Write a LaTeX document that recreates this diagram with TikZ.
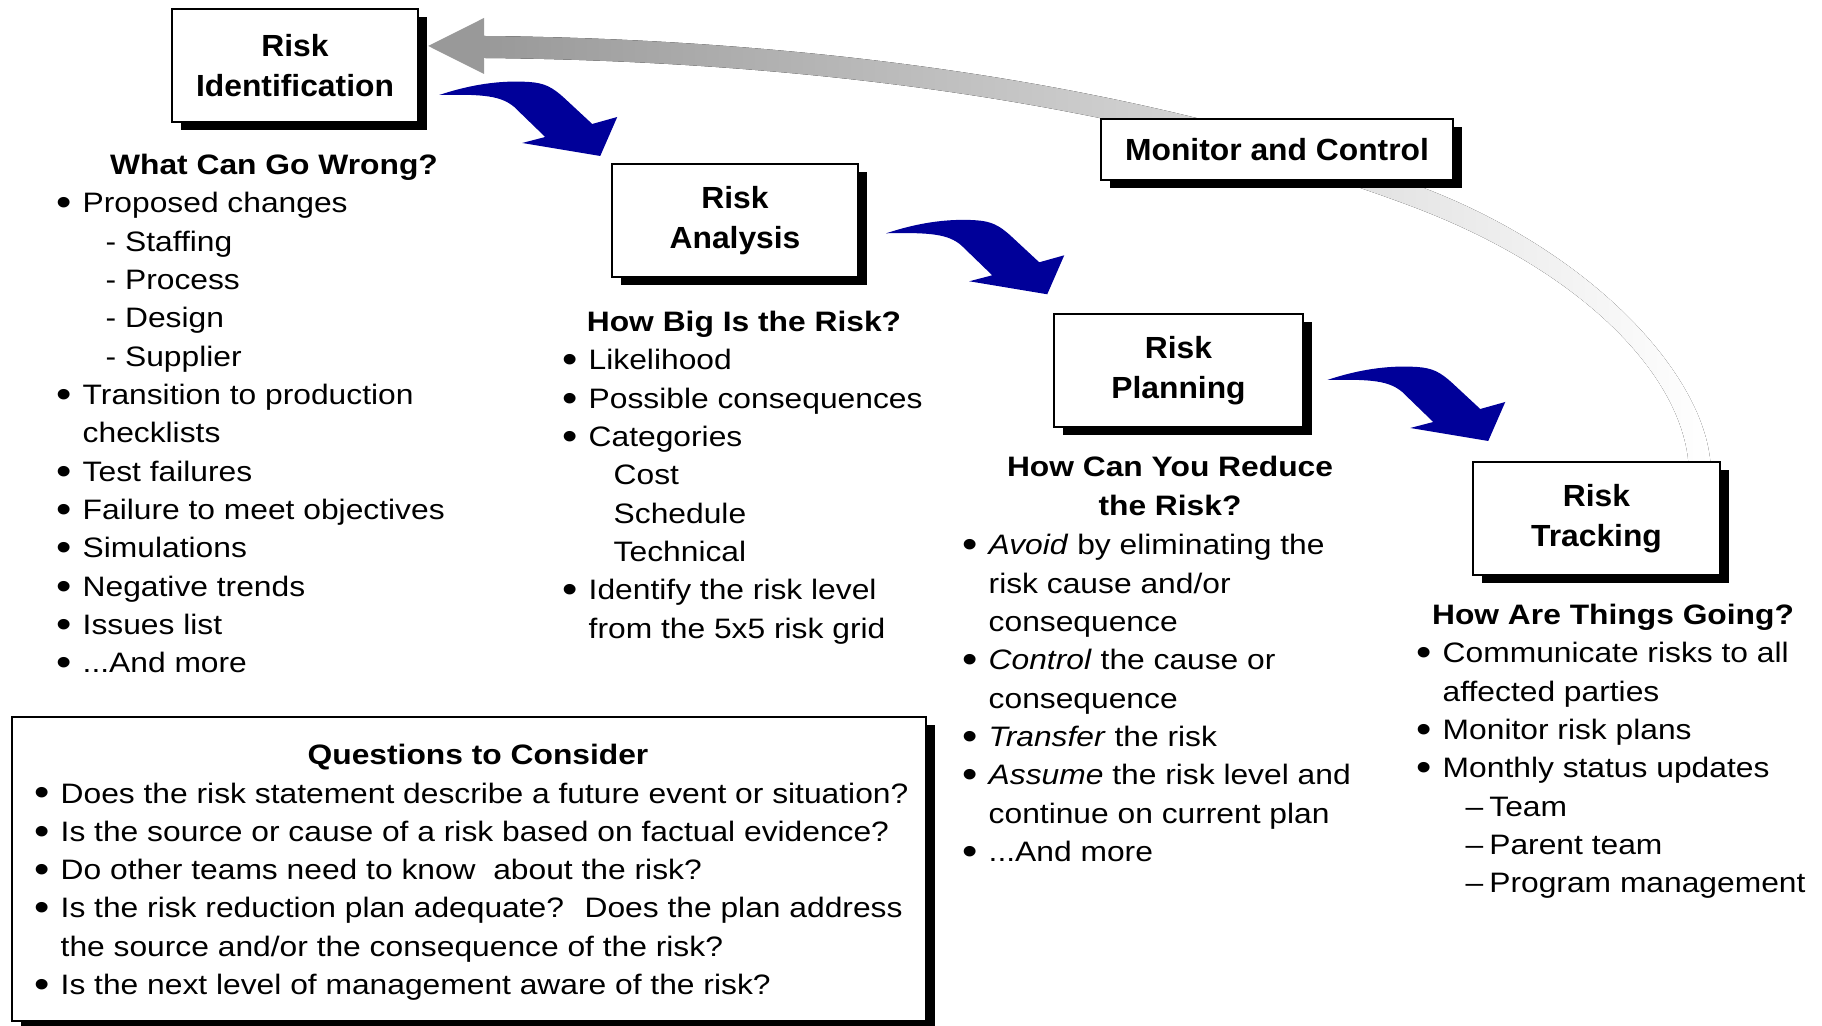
\documentclass[tikz,border=0pt]{standalone}
\usepackage{xcolor}
\usepackage{fontspec}
\setmainfont{Liberation Sans}[FakeStretch=1.13]
\newfontfamily\titlefont{Liberation Sans}[FakeStretch=1.04]
\usepackage{tikz}
\usetikzlibrary{shadows,backgrounds,positioning}
\definecolor{arrowblue}{RGB}{0,0,153}
\definecolor{arcgray}{RGB}{153,153,153}
\newcommand{\bul}{\leavevmode\llap{\raisebox{-0.3mm}{\fontsize{11}{11}\selectfont •}\hspace{1.1mm}}}
\tikzset{
    bluearrow/.pic={
        \fill[arrowblue, x=0.1mm, y=-0.1mm] (0,0) .. controls (30,-10) and (60,-15) .. (90,-13)
            .. controls (105,-12) and (113,-8) .. (125,3) -- (153,29) -- (178,22) -- (161,61)
            -- (83,48) -- (106,42) -- (75,12) .. controls (62,1) and (45,-1) .. (0,0) -- cycle;
    }
}

\begin{document}
\begin{tikzpicture}[
        stepbox/.style={draw, line width=0.7pt, fill=white, align=center,
            minimum width=2.47cm, minimum height=1.13cm,
            font=\titlefont\bfseries\fontsize{8.7}{11.4}\selectfont,
            drop shadow={shadow xshift=0.85mm, shadow yshift=-0.85mm, fill=black, opacity=1}},
        heading/.style={anchor=base, inner sep=0pt, font=\bfseries\fontsize{8}{10.9}\selectfont},
        itemlist/.style={anchor=base west, inner sep=0pt, font=\fontsize{8}{10.9}\selectfont}
    ]
        \useasboundingbox (0,0) rectangle (18.22,-10.26);

        % Process steps
        \node[stepbox, minimum width=2.46cm] (ident) at (2.95,-0.655) {Risk\\Identification};
        \node[stepbox, minimum width=2.46cm] (analysis) at (7.35,-2.205) {Risk\\Analysis};
        \node[stepbox, minimum width=2.49cm] (planning) at (11.785,-3.705) {Risk\\Planning};
        \node[stepbox] (track) at (15.965,-5.185) {Risk\\Tracking};
        \node[stepbox, minimum width=3.52cm, minimum height=0.61cm] (monitor) at (12.77,-1.495) {Monitor and Control};

        % What can go wrong
        \node[heading] (wrongtitle) at (2.74,-1.75) {What Can Go Wrong?};
        \node[itemlist] (wronglist) at (0.82,-2.13) {\parbox[t]{5cm}{\raggedright
            \bul Proposed changes\\
            \hspace*{2.3mm}- Staffing\\
            \hspace*{2.3mm}- Process\\
            \hspace*{2.3mm}- Design\\
            \hspace*{2.3mm}- Supplier\\
            \bul Transition to production\\
            checklists\\
            \bul Test failures\\
            \bul Failure to meet objectives\\
            \bul Simulations\\
            \bul Negative trends\\
            \bul Issues list\\
            \bul ...And more}};

        % How big is the risk
        \node[heading] (bigtitle) at (7.44,-3.32) {How Big Is the Risk?};
        \node[itemlist] (biglist) at (5.88,-3.70) {\parbox[t]{5cm}{\raggedright
            \bul Likelihood\\
            \bul Possible consequences\\
            \bul Categories\\
            \hspace*{2.5mm}Cost\\
            \hspace*{2.5mm}Schedule\\
            \hspace*{2.5mm}Technical\\
            \bul Identify the risk level\\
            from the 5x5 risk grid}};

        % How can you reduce the risk
        \node[heading] (reducetitle) at (11.70,-4.77) {\parbox[t]{4.5cm}{\centering How Can You Reduce\\the Risk?}};
        \node[itemlist] (reducelist) at (9.88,-5.55) {\parbox[t]{5cm}{\raggedright
            \bul \textit{Avoid} by eliminating the\\
            risk cause and/or\\
            consequence\\
            \bul \textit{Control} the cause or\\
            consequence\\
            \bul \textit{Transfer} the risk\\
            \bul \textit{Assume} the risk level and\\
            continue on current plan\\
            \bul ...And more}};

        % How are things going
        \node[heading] (goingtitle) at (16.13,-6.25) {How Are Things Going?};
        \node[itemlist] (goinglist) at (14.42,-6.63) {\parbox[t]{5cm}{\raggedright
            \bul Communicate risks to all\\
            affected parties\\
            \bul Monitor risk plans\\
            \bul Monthly status updates\\
            \hspace*{2.3mm}–\hspace{0.6mm}Team\\
            \hspace*{2.3mm}–\hspace{0.6mm}Parent team\\
            \hspace*{2.3mm}–\hspace{0.6mm}Program management}};

        % Questions to consider
        \node[stepbox, minimum width=9.14cm, minimum height=3.04cm] (questbox) at (4.69,-8.69) {};
        \node[heading] (questtitle) at (4.78,-7.65) {Questions to Consider};
        \node[itemlist] (questlist) at (0.60,-8.03) {\parbox[t]{9cm}{\raggedright
            \bul Does the risk statement describe a future event or situation?\\
            \bul Is the source or cause of a risk based on factual evidence?\\
            \bul Do other teams need to know~ about the risk?\\
            \bul Is the risk reduction plan adequate?~ Does the plan address\\
            the source and/or the consequence of the risk?\\
            \bul Is the next level of management aware of the risk?}};

        % Forward arrows
        \pic at ([xshift=2mm, yshift=-2.95mm]ident.east) {bluearrow};
        \pic at ([xshift=2.7mm, yshift=-1.28mm]analysis.east) {bluearrow};
        \pic at ([xshift=2.3mm, yshift=-0.95mm]planning.east) {bluearrow};

        % Feedback arc from tracking back to identification
        \coordinate (arctip) at ([xshift=0.9mm, yshift=1.95mm]ident.east);
        \coordinate (arcend) at ([xshift=-2.2mm]track.north east);
        \begin{scope}[on background layer]
            \fill[left color=arcgray, middle color=gray!62, right color=white]
                (4.84,-0.36) .. controls (8.00,-0.39) and (11.34,-0.80) .. (14.16,-1.85)
                .. controls (15.86,-2.48) and (17.01,-3.69) .. ([xshift=1.1mm]arcend)
                -- ([xshift=-1.1mm]arcend)
                .. controls (16.79,-3.71) and (15.78,-2.68) .. (14.08,-2.05)
                .. controls (11.26,-1.00) and (8.00,-0.61) .. (4.84,-0.58) -- cycle;
            \fill[arcgray] (arctip) -- (4.84,-0.18) -- (4.84,-0.74) -- cycle;
        \end{scope}
    \end{tikzpicture}
\end{document}
